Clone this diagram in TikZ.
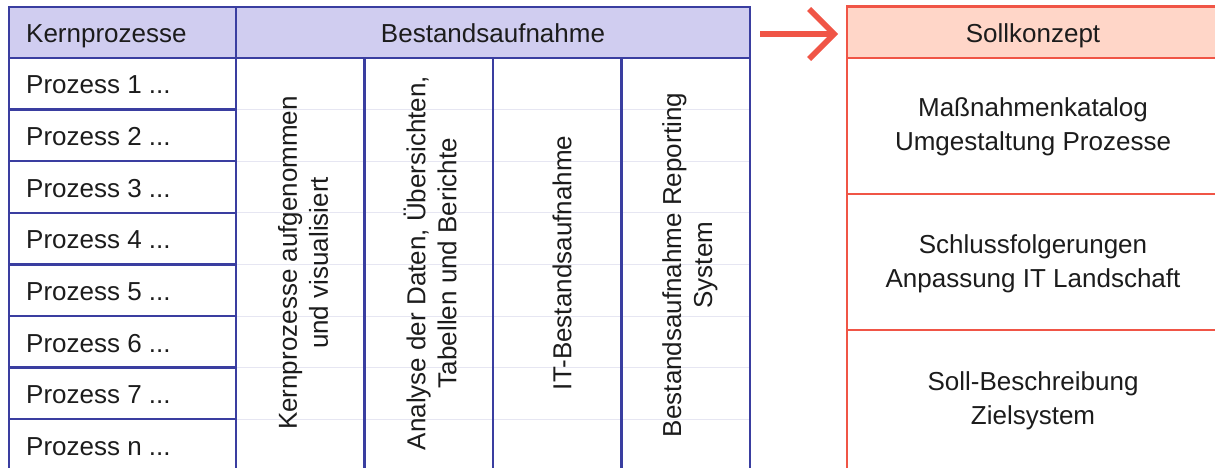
\documentclass[tikz,border=0pt]{standalone}
\usepackage{fontspec}
\setmainfont{Liberation Sans}
\usetikzlibrary{arrows.meta}
\definecolor{navy}{RGB}{58,62,160}
\definecolor{lavender}{RGB}{208,205,240}
\definecolor{faint}{RGB}{230,230,242}
\definecolor{coral}{RGB}{240,85,70}
\definecolor{peach}{RGB}{255,214,200}
\definecolor{ink}{RGB}{28,28,28}
\tikzset{
  blueline/.style={draw=navy, line width=2.5pt},
  redline/.style={draw=coral, line width=2.5pt},
  leftlabel/.style={anchor=base west, inner sep=0pt, text=ink, font=\fontsize{26}{30}\selectfont},
  vlabel/.style={rotate=90, align=center, inner sep=0pt, text=ink, font=\fontsize{26}{31}\selectfont},
  rlabel/.style={align=center, inner sep=0pt, text=ink, font=\fontsize{26}{34}\selectfont},
}
\begin{document}
\begin{tikzpicture}[x=1pt,y=-1pt]
\useasboundingbox (0,0) rectangle (1215,468);
\clip (0,0) rectangle (1215,468);

% faint row rules running through the merged cells
\foreach \y in {109.6,161.2,212.8,264.4,316,367.6,419.2}
  \draw[faint, line width=1pt] (236,\y) -- (750,\y);

% Bestandsaufnahme table
\fill[lavender] (9,7) rectangle (750,58);
\draw[blueline] (9,7) rectangle (750,58);
\draw[blueline] (236,7) -- (236,58);
\foreach \x in {9,236,364.5,493,621.5,750}
  \draw[blueline] (\x,58) -- (\x,480);
\foreach \y in {109.6,161.2,212.8,264.4,316,367.6,419.2}
  \draw[blueline] (9,\y) -- (236,\y);

% Sollkonzept table
\fill[peach] (847,6.5) rectangle (1222,58);
\draw[redline] (847,6.5) rectangle (1222,58);
\foreach \x in {847,1222}
  \draw[redline] (\x,58) -- (\x,480);
\foreach \y in {194,330}
  \draw[redline] (847,\y) -- (1222,\y);

% header texts
\node[leftlabel] (kp) at (26,43) {Kernprozesse};
\node[text=ink, inner sep=0pt, anchor=base, font=\fontsize{26}{30}\selectfont] (ba) at (493,43) {Bestandsaufnahme};
\node[text=ink, inner sep=0pt, anchor=base, font=\fontsize{26}{30}\selectfont] (sk) at (1033,43) {Sollkonzept};

% process rows
\node[leftlabel] (p1) at (26,94) {Prozess 1 ...};
\node[leftlabel] (p2) at (26,145.6) {Prozess 2 ...};
\node[leftlabel] (p3) at (26,197.2) {Prozess 3 ...};
\node[leftlabel] (p4) at (26,248.8) {Prozess 4 ...};
\node[leftlabel] (p5) at (26,300.4) {Prozess 5 ...};
\node[leftlabel] (p6) at (26,352) {Prozess 6 ...};
\node[leftlabel] (p7) at (26,403.6) {Prozess 7 ...};
\node[leftlabel] (pn) at (26,455.2) {Prozess n ...};

% vertical column texts
\node[vlabel] (c1) at (303,263) {Kernprozesse aufgenommen\\und visualisiert};
\node[vlabel] (c2) at (430,263) {Analyse der Daten, Übersichten,\\Tabellen und Berichte};
\node[vlabel] (c3) at (562,263) {IT-Bestandsaufnahme};
\node[vlabel] (c4) at (690,265) {Bestandsaufnahme Reporting\\System};

% target concept texts
\node[rlabel] (s1) at (1033,127) {Maßnahmenkatalog\\Umgestaltung Prozesse};
\node[rlabel] (s2) at (1033,264) {Schlussfolgerungen\\Anpassung IT Landschaft};
\node[rlabel] (s3) at (1033,401) {Soll-Beschreibung\\Zielsystem};

% transition arrow
\coordinate (arrS) at (760,34);
\coordinate (arrE) at (838,34);
\draw[coral, line width=5.5pt, -{Straight Barb[length=25pt, width=50pt]}] (arrS) -- (arrE);
\end{tikzpicture}
\end{document}
